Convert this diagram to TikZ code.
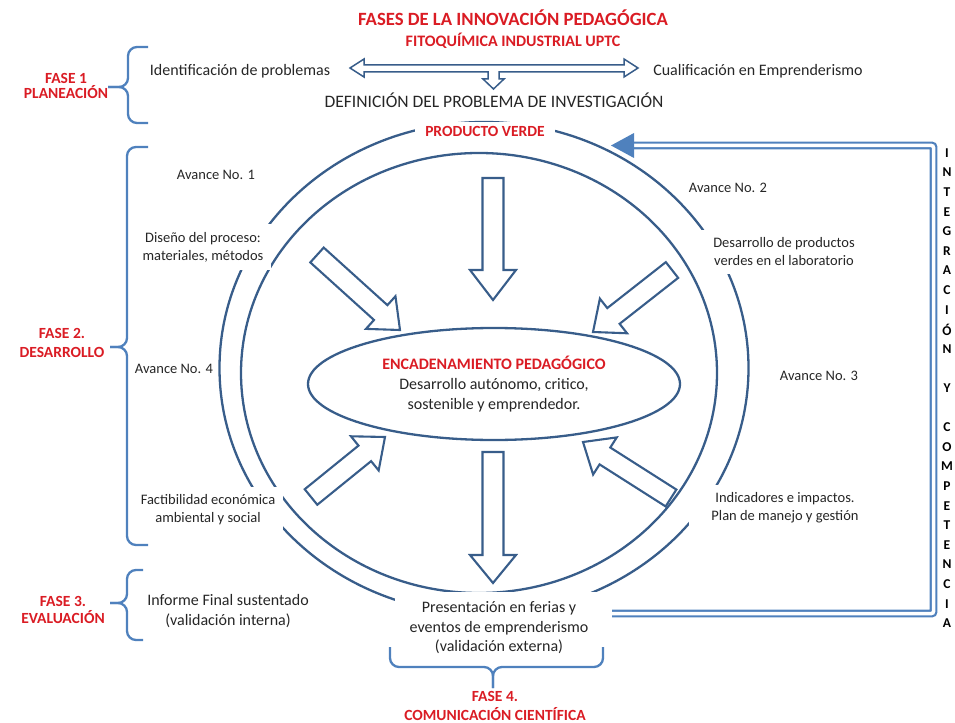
\documentclass[tikz,border=0pt]{standalone}
\usepackage{fontspec}
\setmainfont{Carlito}
\usetikzlibrary{shapes.geometric,calc}
\definecolor{cdark}{RGB}{56,93,138}
\definecolor{clight}{RGB}{79,129,189}
\definecolor{cred}{RGB}{218,28,36}
\definecolor{ctext}{RGB}{38,38,38}
\newcommand\setfs[2]{\fontsize{#1bp}{#2bp}\selectfont}
% name, tail, tip, shaft half width, head half width, head length
\newcommand\blockarr[6]{%
  \coordinate (#1t) at #2;
  \coordinate (#1p) at #3;
  \coordinate (#1h) at ($(#1p)!#6!(#1t)$);
  \draw[blockarrow] ($(#1t)!#4!90:(#1p)$) -- ($(#1h)!#4!90:(#1p)$) -- ($(#1h)!#5!90:(#1p)$) -- (#1p)
     -- ($(#1h)!#5!-90:(#1p)$) -- ($(#1h)!#4!-90:(#1p)$) -- ($(#1t)!#4!-90:(#1p)$) -- cycle;
}
\begin{document}
\begin{tikzpicture}[x=1bp,y=-1bp,
  txt/.style={text=ctext, inner sep=0pt, align=center, font=\setfs{14.5}{18}},
  bigtxt/.style={text=ctext, inner sep=0pt, align=center, font=\setfs{16}{19.5}},
  redlbl/.style={text=cred, inner sep=0pt, align=center, font=\bfseries\setfs{15.5}{17}},
  ringnode/.style={ellipse, draw=cdark, line width=2.3bp, inner sep=0pt},
  bracestyle/.style={draw=clight, line width=2.3bp, rounded corners=9bp},
  blockarrow/.style={draw=cdark, fill=white, line width=2.1bp, line join=miter},
  gapfill/.style={fill=white},
  fbline/.style={draw=clight, double=white, double distance=3.5bp, line width=2.2bp, rounded corners=2bp},
  vletter/.style={text=black, inner sep=0pt, font=\bfseries\setfs{13.5}{13.5}}
]
\useasboundingbox (0,0) rectangle (955,723);

% rings
\node[ringnode, minimum width=529bp, minimum height=492bp] (outerring) at (484,368) {};
\node[ringnode, minimum width=476bp, minimum height=440bp] (innerring) at (479,373) {};

% block arrows
\blockarr{aa}{(493,178)}{(493,300)}{10.5bp}{23bp}{30bp}
\blockarr{ab}{(493,452)}{(493,583)}{10.5bp}{23bp}{28bp}
\blockarr{ac}{(317,255)}{(400,330)}{10bp}{22bp}{26bp}
\blockarr{ad}{(672,270)}{(593,332)}{10bp}{22bp}{26bp}
\blockarr{ae}{(311,497)}{(385,437)}{10bp}{22bp}{26bp}
\blockarr{af}{(671,498)}{(583,442)}{10bp}{22bp}{26bp}

% central ellipse
\node[ellipse, draw=cdark, line width=2.3bp, inner sep=0pt, minimum width=372bp, minimum height=112bp, align=center, font=\setfs{16}{20}, text=ctext] (core) at (494,384)
  {{\color{cred}\bfseries ENCADENAMIENTO PEDAGÓGICO}\\Desarrollo autónomo, critico,\\sostenible y emprendedor.};

% title
\node[text=cred, inner sep=0pt, font=\bfseries\setfs{18.7}{20}] (title) at (513,18) {FASES DE LA INNOVACIÓN PEDAGÓGICA};
\node[text=cred, inner sep=0pt, font=\bfseries\setfs{16}{18}] (subtitle) at (513,41) {FITOQUÍMICA INDUSTRIAL UPTC};

% planning row
\node[bigtxt] (ident) at (240,71) {Identificación de problemas};
\node[bigtxt] (cualif) at (758,71) {Cualificación en Emprenderismo};
\node[bigtxt, font=\setfs{17.5}{20}] (defin) at (494,100) {DEFINICIÓN DEL PROBLEMA DE INVESTIGACIÓN};
\draw[blockarrow, line width=1.5bp] (350,68) -- (364,59) -- (364,65) -- (624,65) -- (624,59) -- (638,68)
  -- (624,77) -- (624,72) -- (499,72) -- (499,79) -- (504,79) -- (493.5,89) -- (483,79) -- (488,79)
  -- (488,72) -- (364,72) -- (364,77) -- cycle;

% ring labels
\node[redlbl, gapfill, inner xsep=10bp, inner ysep=4bp] (prod) at (485,131) {PRODUCTO VERDE};
\node[txt] (av1) at (216,175) {Avance No. 1};
\node[txt, gapfill, inner sep=8bp] (dis) at (203,247) {Diseño del proceso:\\materiales, métodos};
\node[txt] (av4) at (174,369) {Avance No. 4};
\node[txt, gapfill, inner sep=8bp] (fact) at (208,510) {Factibilidad económica\\ambiental y social};
\node[bigtxt] (inf) at (228,611) {Informe Final sustentado\\(validación interna)};
\node[txt] (av2) at (728,188) {Avance No. 2};
\node[txt, gapfill, inner xsep=14bp, inner ysep=8bp] (des) at (784,252) {Desarrollo de productos\\verdes en el laboratorio};
\node[txt] (av3) at (819,376) {Avance No. 3};
\node[txt, gapfill, inner xsep=22bp, inner ysep=8bp] (ind) at (785,508) {Indicadores e impactos.\\Plan de manejo y gestión};
\node[bigtxt, gapfill, inner xsep=15bp, inner ysep=10bp] (pres) at (499,628) {Presentación en ferias y\\eventos de emprenderismo\\(validación externa)};

% braces
\draw[bracestyle] (148,47) -- (128,47) -- (128,87) -- (108,87);
\draw[bracestyle] (108,87) -- (128,87) -- (128,123) -- (148,123);
\draw[bracestyle] (148,147) -- (127,147) -- (127,347) -- (110,347);
\draw[bracestyle] (110,347) -- (127,347) -- (127,545) -- (148,545);
\draw[bracestyle] (143,570) -- (127,570) -- (127,603) -- (110,603);
\draw[bracestyle] (110,603) -- (127,603) -- (127,640) -- (143,640);
\draw[bracestyle] (390,647) -- (390,667) -- (493,667) -- (493,688);
\draw[bracestyle] (603,647) -- (603,667) -- (493,667) -- (493,688);

% phase labels
\node[redlbl, font=\bfseries\setfs{15.5}{15.5}] (f1) at (66,86) {FASE 1\\PLANEACIÓN};
\node[redlbl, font=\bfseries\setfs{15.5}{19}] (f2) at (62,343) {FASE 2.\\DESARROLLO};
\node[redlbl, font=\bfseries\setfs{15.5}{17}] (f3) at (63,610) {FASE 3.\\EVALUACIÓN};
\node[redlbl, font=\bfseries\setfs{15.5}{19}] (f4) at (495,706) {FASE 4.\\COMUNICACIÓN CIENTÍFICA};

% feedback arrow
\coordinate (fbs) at (612,613.5);
\coordinate (fbc) at (933.5,145.5);
\coordinate (fbe) at (633,145.5);
\coordinate (fbtip) at (611,145.5);
\draw[fbline] (fbs) -| (fbc) -- (fbe);
\fill[clight] (fbtip) -- (634,133) -- (634,158) -- cycle;

% vertical text
\foreach \ch/\k in {I/0,N/1,T/2,E/3,G/4,R/5,A/6,C/7,I/8,Ó/9,N/10,Y/12,C/14,O/15,M/16,P/17,E/18,T/19,E/20,N/21,C/22,I/23,A/24}
  \node[vletter] (vl\k) at (947,{153+\k*19.6}) {\ch};
\end{tikzpicture}
\end{document}
